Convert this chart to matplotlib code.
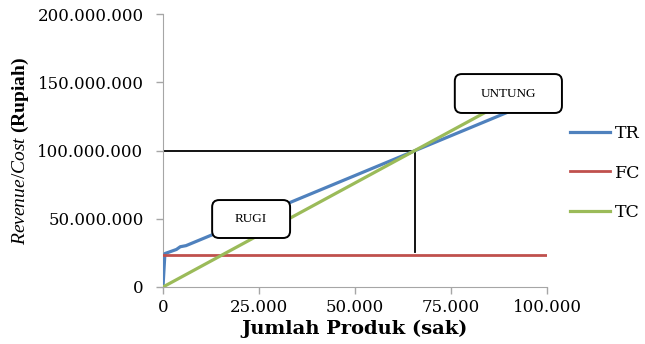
import matplotlib.pyplot as plt
import matplotlib.ticker as mticker
from matplotlib.patches import FancyBboxPatch

# jumlah produk (sak) vs biaya / penerimaan (rupiah)
tr_x = [0, 500, 2000, 3500, 4500, 6000, 100000]
tr_y = [0, 24500000, 26000000, 27500000, 29500000, 30300000, 140000000]
fc_x = [0, 100000]
fc_y = [23400000, 23400000]
tc_x = [0, 100000]
tc_y = [0, 152400000]

bep_q = 65600
bep_rp = 100000000
bep_low = 25600000

x_ticks = [0, 25000, 50000, 75000, 100000]
y_ticks = [0, 50000000, 100000000, 150000000, 200000000]
labels = ["TR", "FC", "TC"]

plt.rcParams['mathtext.fontset'] = 'custom'
plt.rcParams['mathtext.rm'] = 'Liberation Serif'
plt.rcParams['mathtext.it'] = 'Liberation Serif:italic'
plt.rcParams['mathtext.bf'] = 'Liberation Serif:bold'

fig = plt.figure(figsize=(6.45, 3.44), dpi=100)
ax = fig.add_axes([0.2527, 0.1657, 0.5953, 0.7936])

ax.plot([0, bep_q], [bep_rp, bep_rp], color='black', lw=1.3, zorder=2)
ax.plot([bep_q, bep_q], [bep_low, bep_rp], color='black', lw=1.3, zorder=2)

ax.plot(tr_x, tr_y, color='#4F81BD', lw=2.3, label=labels[0], zorder=3)
ax.plot(fc_x, fc_y, color='#C0504D', lw=2.0, label=labels[1], zorder=3)
ax.plot(tc_x, tc_y, color='#9BBB59', lw=2.3, label=labels[2], zorder=3)

# kotak keterangan rugi / untung
px_x = 100000 / 384.0
px_y = 200000000 / 273.0
for x0, y0, w, h, txt in [(12800, 35900000, 20300, 27800000, "RUGI"),
                          (76000, 127500000, 27900, 28500000, "UNTUNG")]:
    box = FancyBboxPatch((x0, y0), w, h,
                         boxstyle="round,pad=0,rounding_size=%f" % (7 * px_x),
                         mutation_aspect=px_y / px_x,
                         facecolor='white', edgecolor='black', lw=1.4,
                         clip_on=False, zorder=5)
    ax.add_patch(box)
    ax.text(x0 + w / 2, y0 + h / 2, txt, ha='center', va='center',
            fontsize=9.5, family='Liberation Serif', zorder=6)

ax.set_xlim(0, 100000)
ax.set_ylim(0, 200000000)
ax.set_xticks(x_ticks)
ax.set_yticks(y_ticks)
fmt = mticker.FuncFormatter(lambda v, p: '{:,.0f}'.format(v).replace(',', '.'))
ax.xaxis.set_major_formatter(fmt)
ax.yaxis.set_major_formatter(fmt)

for s in ['top', 'right']:
    ax.spines[s].set_visible(False)
for s in ['left', 'bottom']:
    ax.spines[s].set_color('#A6A6A6')
ax.tick_params(colors='#A6A6A6', length=5, width=1, direction='out')
ax.tick_params(axis='y', pad=9)
ax.tick_params(axis='x', pad=4)
for lab in ax.get_xticklabels() + ax.get_yticklabels():
    lab.set_family('DejaVu Serif')
    lab.set_fontsize(12)
    lab.set_color('black')

ax.set_xlabel('Jumlah Produk (sak)', family='DejaVu Serif', fontweight='bold',
              fontsize=14, labelpad=2)
ax.set_ylabel(r'$\mathit{Revenue/Cost}\ \mathbf{(Rupiah)}$', fontsize=14)
ax.yaxis.set_label_coords(-0.345, 0.5)

leg = ax.legend(loc='center left', bbox_to_anchor=(0.859, 0.497),
                bbox_transform=fig.transFigure, frameon=False,
                handlelength=2.3, handletextpad=0.3, labelspacing=1.3,
                prop={'family': 'DejaVu Serif', 'size': 12.5})

fig.savefig('out.png', dpi=100)
